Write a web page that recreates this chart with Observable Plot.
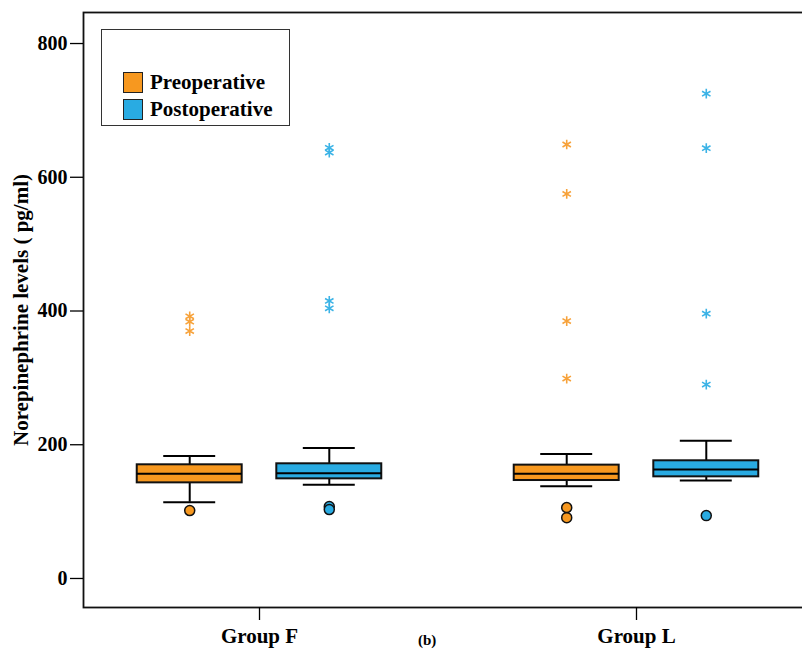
<!DOCTYPE html>
<html>
<head>
<meta charset="utf-8">
<script src="https://cdn.jsdelivr.net/npm/d3@7"></script>
<script src="https://cdn.jsdelivr.net/npm/@observablehq/plot@0.6"></script>
<style>
  html, body { margin: 0; padding: 0; background: #fff; overflow: hidden; }
  #wrap { position: relative; width: 802px; height: 650px; font-family: "Liberation Serif", "Times New Roman", serif; }
  #legend { position: absolute; left: 101px; top: 29px; width: 187px; height: 95px; border: 1.5px solid #333; background: #fff; }
  .item { position: absolute; left: 21px; display: flex; align-items: center; font-weight: bold; font-size: 21px; color: #000; }
  .sw { width: 20px; height: 21px; border: 1.3px solid #222; margin-right: 7px; box-sizing: border-box; }
  #cap { position: absolute; left: 418px; top: 632px; font-weight: bold; font-size: 15px; line-height: 16px; }
</style>
</head>
<body>
<div id="wrap"></div>
<script>
// ---- data ----
const groups = ["Group F", "Group L"];
const periods = ["Preoperative", "Postoperative"];
const colors = ["#F7981F", "#29ABE2"];
const starColors = ["#F7A23A", "#3BB3E6"];
const yTicks = [0, 200, 400, 600, 800];

// box summaries, order: F-pre, F-post, L-pre, L-post
const boxGroup  = ["Group F", "Group F", "Group L", "Group L"];
const boxPeriod = ["Preoperative", "Postoperative", "Preoperative", "Postoperative"];
const whiskerLow  = [114, 140, 138, 146.5];
const q1          = [143, 149, 146.5, 152];
const median      = [156.5, 157.5, 156.5, 163];
const q3          = [170, 171.5, 169.5, 176];
const whiskerHigh = [183, 195, 186, 206];

// outliers (circles)
const outGroup  = ["Group F", "Group F", "Group F", "Group L", "Group L", "Group L"];
const outPeriod = ["Preoperative", "Postoperative", "Postoperative", "Preoperative", "Preoperative", "Postoperative"];
const outValue  = [101.5, 107.5, 103, 106, 91, 94];

// extremes (stars)
const extGroup  = ["Group F","Group F","Group F","Group F","Group F","Group F","Group F",
                   "Group L","Group L","Group L","Group L","Group L","Group L","Group L","Group L"];
const extPeriod = ["Preoperative","Preoperative","Preoperative","Postoperative","Postoperative","Postoperative","Postoperative",
                   "Preoperative","Preoperative","Preoperative","Preoperative","Postoperative","Postoperative","Postoperative","Postoperative"];
const extValue  = [392, 384, 370, 644, 637, 415, 404,
                   649, 575, 385, 299, 725, 643.5, 396, 290];

// ---- tables built from the arrays ----
const boxes = boxGroup.map((g, i) => ({group: g, period: boxPeriod[i], lo: whiskerLow[i], q1: q1[i], med: median[i], q3: q3[i], hi: whiskerHigh[i]}));
const outliers = outValue.map((v, i) => ({group: outGroup[i], period: outPeriod[i], value: v}));
const extremes = extValue.map((v, i) => ({group: extGroup[i], period: extPeriod[i], value: v}));

const plot = Plot.plot({
  width: 802,
  height: 650,
  marginLeft: 83,
  marginRight: -10,
  marginTop: 12,
  marginBottom: 43,
  style: {fontFamily: "Liberation Serif, Times New Roman, serif", fontWeight: "bold", color: "#000", background: "#fff"},
  fx: {domain: groups, paddingInner: 0.0663, paddingOuter: 0, round: false},
  x: {domain: periods, paddingInner: 0.248, paddingOuter: 0.385, round: false},
  y: {domain: [-43.4, 846.4], label: "Norepinephrine levels ( pg/ml)"},
  color: {domain: periods, range: colors},
  marks: [
    Plot.frame({facet: "super", stroke: "#111", strokeWidth: 1.8}),
    Plot.axisY({ticks: yTicks, tickSize: 13, tickPadding: 3, fontSize: 20, strokeWidth: 1.3,
      label: "Norepinephrine levels ( pg/ml)", labelAnchor: "center", labelOffset: 70, labelArrow: false}),
    Plot.axisFx({anchor: "bottom", tickSize: 13, tickPadding: 8, fontSize: 21, label: null, strokeWidth: 1.3}),
    Plot.axisX({ticks: [], label: null, tickSize: 0}),
    // whiskers
    Plot.ruleX(boxes, {fx: "group", x: "period", y1: "q3", y2: "hi", stroke: "#000", strokeWidth: 2}),
    Plot.ruleX(boxes, {fx: "group", x: "period", y1: "lo", y2: "q1", stroke: "#000", strokeWidth: 2}),
    Plot.tickY(boxes, {fx: "group", x: "period", y: "hi", stroke: "#000", strokeWidth: 2, insetLeft: 26.5, insetRight: 26.5}),
    Plot.tickY(boxes, {fx: "group", x: "period", y: "lo", stroke: "#000", strokeWidth: 2, insetLeft: 26.5, insetRight: 26.5}),
    // boxes
    Plot.barY(boxes, {fx: "group", x: "period", y1: "q1", y2: "q3", fill: "period", stroke: "#111", strokeWidth: 2}),
    Plot.tickY(boxes, {fx: "group", x: "period", y: "med", stroke: "#000", strokeWidth: 2}),
    // outliers
    Plot.dot(outliers, {fx: "group", x: "period", y: "value", fill: "period", stroke: "#111", strokeWidth: 1.5, r: 5}),
    // extremes
    Plot.dot(extremes, {fx: "group", x: "period", y: "value", symbol: "asterisk", r: 4.6, strokeWidth: 1.6,
      stroke: d => starColors[periods.indexOf(d.period)]})
  ]
});

const wrap = document.getElementById("wrap");
wrap.appendChild(plot);
const lab = plot.querySelector('g[aria-label="y-axis label"]');
if (lab) {
  lab.setAttribute("font-size", 21);
  lab.querySelectorAll("text").forEach(t => t.setAttribute("font-size", 21));
}

// legend
const legend = document.createElement("div");
legend.id = "legend";
periods.forEach((p, i) => {
  const it = document.createElement("div");
  it.className = "item";
  it.style.top = (40 + i * 27) + "px";
  const sw = document.createElement("div");
  sw.className = "sw";
  sw.style.background = plot.scale("color").apply(p);
  it.appendChild(sw);
  it.appendChild(document.createTextNode(p));
  legend.appendChild(it);
});
wrap.appendChild(legend);

const cap = document.createElement("div");
cap.id = "cap";
cap.textContent = "(b)";
wrap.appendChild(cap);
</script>
</body>
</html>
